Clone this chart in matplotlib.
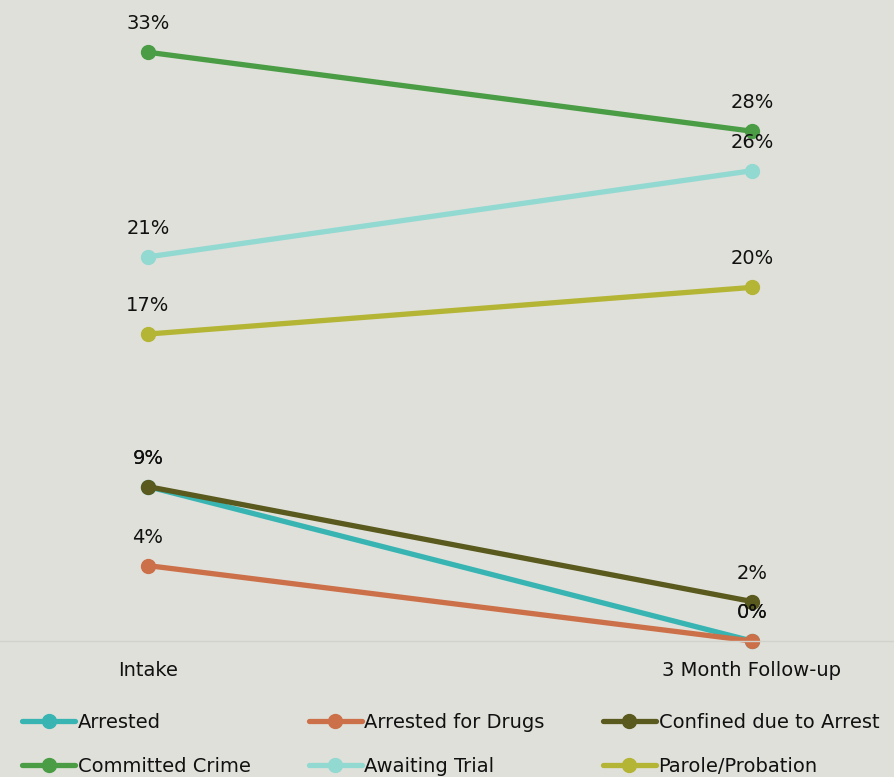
import matplotlib
matplotlib.use("Agg")
import matplotlib.pyplot as plt

plt.rcParams['font.family'] = ['DejaVu Sans']

# Time points
timepoints = ["Intake", "3 Month Follow-up"]

# Share of participants (%) at each time point
series_names = ["Arrested", "Arrested for Drugs", "Confined due to Arrest",
                "Committed Crime", "Awaiting Trial", "Parole/Probation"]
arrested = [8.6, 0.0]
arrested_drugs = [4.2, 0.0]
confined = [8.6, 2.2]
committed = [32.8, 28.4]
awaiting = [21.4, 26.2]
parole = [17.1, 19.7]

series_values = [arrested, arrested_drugs, confined, committed, awaiting, parole]
colors = ["#38b5b3", "#cc7049", "#5a5a1e", "#4a9d45", "#92d9d2", "#b4b535"]

BG = "#e0e0da"
fig = plt.figure(figsize=(8.95, 7.77), dpi=100, facecolor=BG)
ax = fig.add_axes([0, 1 - 641 / 777, 1, 641 / 777])
ax.set_facecolor(BG)

x = list(range(len(timepoints)))
handles = []
for name, vals, col in zip(series_names, series_values, colors):
    h, = ax.plot(x, vals, color=col, lw=3.8, marker="o", ms=10,
                 solid_capstyle="round", label=name, clip_on=False)
    handles.append(h)
    for xi, v in zip(x, vals):
        ax.annotate(f"{round(v)}%", (xi, v), xytext=(0, 16.5),
                    textcoords="offset points", ha="center", va="baseline",
                    fontsize=14, color="#111111")

ax.set_xlim(-148 / 604, 1 + (895 - 752) / 604)
ax.set_ylim(0, 641 / 17.95)
ax.set_xticks(x)
ax.set_xticklabels(timepoints, fontsize=14, color="#111111")
ax.tick_params(axis="x", length=0, pad=14.5)
ax.set_yticks([])
for s in ["top", "left", "right"]:
    ax.spines[s].set_visible(False)
ax.spines["bottom"].set_color("#d2d2cc")
ax.spines["bottom"].set_linewidth(1.0)

# Row-major legend order in a 3-column layout
order = [0, 3, 1, 4, 2, 5]
leg = fig.legend([handles[i] for i in order], [series_names[i] for i in order],
                 ncol=3, loc="lower left", bbox_to_anchor=(0.012, -0.014),
                 frameon=False, fontsize=14, handlelength=2.7,
                 handletextpad=0.15, columnspacing=3.0, labelspacing=1.3,
                 borderaxespad=0.2)
for t in leg.get_texts():
    t.set_color("#111111")

fig.savefig("out.png", dpi=100, facecolor=BG)
